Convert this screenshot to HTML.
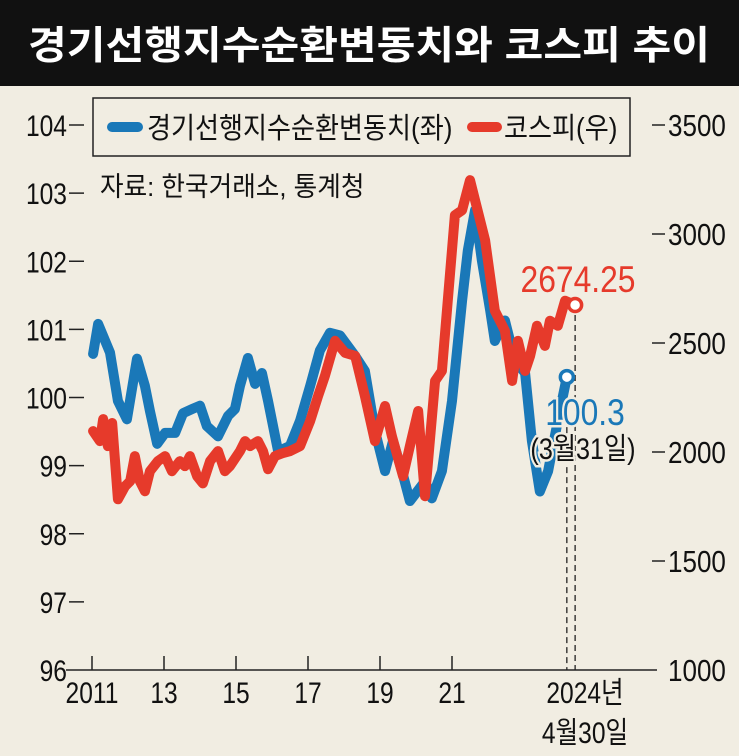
<!DOCTYPE html>
<html lang="ko"><head><meta charset="utf-8">
<style>
html,body{margin:0;padding:0;background:#f1ede2;}
svg{display:block;}
text{font-family:"Liberation Sans","Noto Sans CJK KR",sans-serif;}
</style></head>
<body>
<svg id="chart" width="739" height="756" viewBox="0 0 739 756" xmlns="http://www.w3.org/2000/svg">
<rect x="0" y="0" width="739" height="756" fill="#f1ede2"/>
<rect x="0" y="0" width="739" height="86" fill="#111"/>
<text transform="translate(369,59) scale(1.08,1)" text-anchor="middle" fill="#fff" font-size="39" font-weight="bold">경기선행지수순환변동치와 코스피 추이</text>
<g id="axes"></g>
<g id="series"></g>
<rect x="93" y="98" width="537" height="58" fill="#f1ede2" stroke="#222" stroke-width="1.5"/>
<line x1="112" y1="127" x2="138" y2="127" stroke="#1a78b8" stroke-width="10" stroke-linecap="round"/>
<text transform="translate(147,138) scale(0.9,1)" font-size="29" fill="#111">경기선행지수순환변동치(좌)</text>
<line x1="472" y1="127" x2="497" y2="127" stroke="#e63a2b" stroke-width="10" stroke-linecap="round"/>
<text transform="translate(504,138) scale(0.9,1)" font-size="29" fill="#111">코스피(우)</text>
<text transform="translate(100,196) scale(0.95,1)" font-size="27" fill="#111">자료: 한국거래소, 통계청</text>
</svg>
<script>
const leftTicks=[96,97,98,99,100,101,102,103,104];
const rightTicks=[1000,1500,2000,2500,3000,3500];
const xTickYears=[2011,2013,2015,2017,2019,2021];
const xTickLabels=["2011","13","15","17","19","21"];
const blueYears=[2011.03,2011.17,2011.5,2011.72,2011.97,2012.25,2012.47,2012.61,2012.81,2013.03,2013.31,2013.53,2013.78,2014.0,2014.19,2014.5,2014.78,2014.97,2015.11,2015.33,2015.53,2015.72,2015.89,2016.17,2016.5,2016.78,2017.06,2017.33,2017.61,2017.89,2018.31,2018.58,2018.86,2019.14,2019.36,2019.61,2019.83,2020.25,2020.44,2020.72,2021.0,2021.28,2021.44,2021.64,2021.83,2022.06,2022.19,2022.47,2022.75,2023.03,2023.22,2023.44,2023.67,2023.94,2024.19];
const blueValues=[100.64,101.08,100.66,99.95,99.68,100.57,100.17,99.8,99.32,99.48,99.48,99.77,99.83,99.88,99.58,99.43,99.73,99.83,100.17,100.58,100.2,100.36,99.95,99.21,99.29,99.66,100.17,100.69,100.95,100.91,100.61,100.39,99.51,98.92,99.36,98.92,98.48,98.77,98.52,98.92,99.95,101.42,102.16,102.75,102.01,101.28,100.83,101.13,100.54,100.36,99.36,98.62,98.92,99.66,100.3];
const redYears=[2011.03,2011.22,2011.31,2011.44,2011.56,2011.72,2011.92,2012.06,2012.19,2012.33,2012.47,2012.61,2012.83,2013.03,2013.22,2013.44,2013.58,2013.72,2013.92,2014.08,2014.28,2014.5,2014.69,2014.83,2015.11,2015.25,2015.39,2015.61,2015.75,2015.89,2016.08,2016.28,2016.5,2016.78,2017.06,2017.28,2017.47,2017.75,2018.03,2018.31,2018.58,2018.86,2019.14,2019.33,2019.64,2019.83,2020.06,2020.25,2020.53,2020.72,2021.08,2021.28,2021.5,2021.64,2021.92,2022.19,2022.47,2022.67,2022.83,2023.03,2023.17,2023.36,2023.58,2023.72,2023.94,2024.14,2024.42];
const redValues=[2096,2050,2151,2027,2133,1783,1843,1866,1981,1866,1820,1912,1958,1981,1912,1958,1935,1981,1889,1856,1958,2004,1912,1935,2004,2050,2027,2050,2004,1921,1981,1994,2004,2027,2142,2257,2349,2510,2455,2441,2257,2050,2211,2073,1889,2027,2188,1797,2326,2372,3086,3109,3247,3155,2971,2648,2556,2326,2510,2372,2441,2579,2487,2602,2579,2694,2674.25];

const NS="http://www.w3.org/2000/svg";
const X0=92, PXY=36, YT=125, YB=670;
const x=y=>X0+(y-2011)*PXY;
const yL=v=>YB-(v-96)/(104-96)*(YB-YT);
const yR=v=>YB-(v-1000)/(3500-1000)*(YB-YT);
function mk(tag,attrs,parent){const e=document.createElementNS(NS,tag);for(const k in attrs)e.setAttribute(k,attrs[k]);parent.appendChild(e);return e;}
const axes=document.getElementById('axes');
const series=document.getElementById('series');

let e=mk('line',{x1:66,y1:YB,x2:657,y2:YB,stroke:'#222','stroke-width':1.5},axes);



leftTicks.forEach(v=>{
  const yy=yL(v);
  let t=mk('text',{transform:`translate(67,${yy+11}) scale(0.82,1)`,'text-anchor':'end','font-size':30,fill:'#111'},axes);
  t.textContent=String(v);
  
  
  if(v!==96){
    let l=mk('line',{x1:69,y1:yy,x2:84,y2:yy,stroke:'#222','stroke-width':1.5},axes);
    
    
  }
});
rightTicks.forEach(v=>{
  const yy=yR(v);
  let t=mk('text',{transform:`translate(668,${yy+11}) scale(0.84,1)`,'font-size':31,fill:'#111'},axes);
  t.textContent=String(v);
  
  
  if(v!==1000){
    let l=mk('line',{x1:652,y1:yy,x2:665,y2:yy,stroke:'#222','stroke-width':1.5},axes);
    
    
  }
});
xTickYears.forEach((yr,i)=>{
  const xx=x(yr);
  let l=mk('line',{x1:xx,y1:YB-14,x2:xx,y2:YB,stroke:'#222','stroke-width':1.5},axes);
  
  
  let t=mk('text',{transform:`translate(${xx},${YB+33}) scale(0.82,1)`,'text-anchor':'middle','font-size':30,fill:'#111'},axes);
  t.textContent=xTickLabels[i];
  
  
});
let t2=mk('text',{transform:`translate(585,${YB+33}) scale(0.82,1)`,'text-anchor':'middle','font-size':30,fill:'#111'},axes);
t2.textContent='2024년';


let t3=mk('text',{transform:`translate(585,${YB+73}) scale(0.82,1)`,'text-anchor':'middle','font-size':30,fill:'#111'},axes);
t3.textContent='4월30일';



const bx=x(blueYears[blueYears.length-1]), by=yL(blueValues[blueValues.length-1]);
const rx=x(redYears[redYears.length-1]), ry=yR(redValues[redValues.length-1]);
let d1=mk('line',{x1:bx,y1:by,x2:bx,y2:YB,stroke:'#222','stroke-width':1.3,'stroke-dasharray':'6,4'},axes);


let d2=mk('line',{x1:rx,y1:ry,x2:rx,y2:YB,stroke:'#222','stroke-width':1.3,'stroke-dasharray':'6,4'},axes);



const bp=mk('polyline',{points:blueYears.map((yr,i)=>x(yr)+','+yL(blueValues[i])).join(' '),fill:'none',stroke:'#1a78b8','stroke-width':10,'stroke-linejoin':'round','stroke-linecap':'round'},series);


const rp=mk('polyline',{points:redYears.map((yr,i)=>x(yr)+','+yR(redValues[i])).join(' '),fill:'none',stroke:'#e63a2b','stroke-width':10,'stroke-linejoin':'round','stroke-linecap':'round'},series);



let c1=mk('circle',{cx:bx,cy:by,r:6.5,fill:'#fff',stroke:'#1a78b8','stroke-width':3.5},series);


let c2=mk('circle',{cx:rx,cy:ry,r:6.5,fill:'#fff',stroke:'#e63a2b','stroke-width':3.5},series);



let lr=mk('text',{transform:`translate(578,${ry-13}) scale(0.86,1)`,'text-anchor':'middle','font-size':37,fill:'#e63a2b',stroke:'#f1ede2','stroke-width':5,'paint-order':'stroke'},series);
lr.textContent=String(redValues[redValues.length-1]);


let lb=mk('text',{transform:`translate(585,${by+48}) scale(0.86,1)`,'text-anchor':'middle','font-size':37,fill:'#1a78b8',stroke:'#f1ede2','stroke-width':5,'paint-order':'stroke'},series);
lb.textContent=String(blueValues[blueValues.length-1]);


let lbd=mk('text',{transform:`translate(583,${by+82}) scale(0.84,1)`,'text-anchor':'middle','font-size':30,fill:'#111',stroke:'#f1ede2','stroke-width':5,'paint-order':'stroke'},series);
lbd.textContent='(3월31일)';


</script>
</body></html>
